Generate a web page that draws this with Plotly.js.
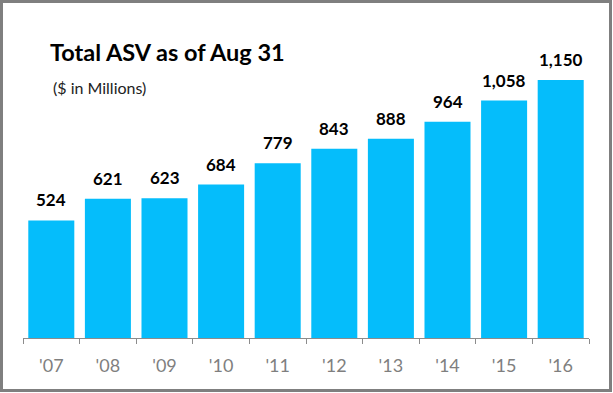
<!DOCTYPE html>
<html>
<head>
<meta charset="utf-8">
<script src="https://cdn.plot.ly/plotly-3.0.1.min.js"></script>
<style>
html,body{margin:0;padding:0;background:#fff;}
#wrap{position:relative;width:613px;height:393px;}
#chart{position:absolute;left:0;top:0;width:613px;height:393px;}
#frame{position:absolute;left:0;top:0;width:612px;height:392px;box-sizing:border-box;border:3px solid #7f7f7f;pointer-events:none;}
</style>
</head>
<body>
<div id="wrap"><div id="chart"></div><div id="frame"></div></div>
<script>
const years = ["'07","'08","'09","'10","'11","'12","'13","'14","'15","'16"];
const asv = [524, 621, 623, 684, 779, 843, 888, 964, 1058, 1150];
const valueLabels = ["524","621","623","684","779","843","888","964","1,058","1,150"];
const titleText = "Total ASV as of Aug 31";
const subtitleText = "($ in Millions)";

const FONT = "Lato, 'Open Sans', sans-serif";
const annotations = years.map((y, i) => ({
  x: y, y: asv[i], xref: 'x', yref: 'y',
  text: '<b>' + valueLabels[i] + '</b>',
  showarrow: false, yanchor: 'bottom', yshift: 8,
  font: {family: FONT, size: 17, color: '#000'}
}));
annotations.push({
  xref: 'paper', yref: 'paper', x: (51-23)/566, y: (338-87)/298,
  xanchor: 'left', yanchor: 'middle', showarrow: false,
  text: subtitleText, font: {family: FONT, size: 16, color: '#222'}
});

Plotly.newPlot('chart', [{
  type: 'bar', x: years, y: asv,
  marker: {color: '#05BDFB', line: {width: 0}},
  hoverinfo: 'none'
}], {
  width: 613, height: 393,
  margin: {l: 23, r: 24, t: 40, b: 55},
  paper_bgcolor: '#fff', plot_bgcolor: '#fff',
  bargap: 0.187,
  showlegend: false,
  title: {text: '<b>' + titleText + '</b>', xref: 'container', yref: 'container',
          x: 50/613, xanchor: 'left', y: 1 - 53/393, yanchor: 'middle',
          font: {family: FONT, size: 23.5, color: '#000'}},
  xaxis: {
    type: 'category', showline: true, linecolor: '#8c8c8c', linewidth: 1,
    ticks: 'outside', tickson: 'boundaries', ticklen: 5, tickcolor: '#8c8c8c',
    ticklabelstandoff: 11,
    showgrid: false, zeroline: false,
    tickfont: {family: FONT, size: 18, color: '#7f7f7f'}
  },
  yaxis: {range: [0, 1328], visible: false, showgrid: false, zeroline: false},
  annotations: annotations
}, {staticPlot: true});
</script>
</body>
</html>
